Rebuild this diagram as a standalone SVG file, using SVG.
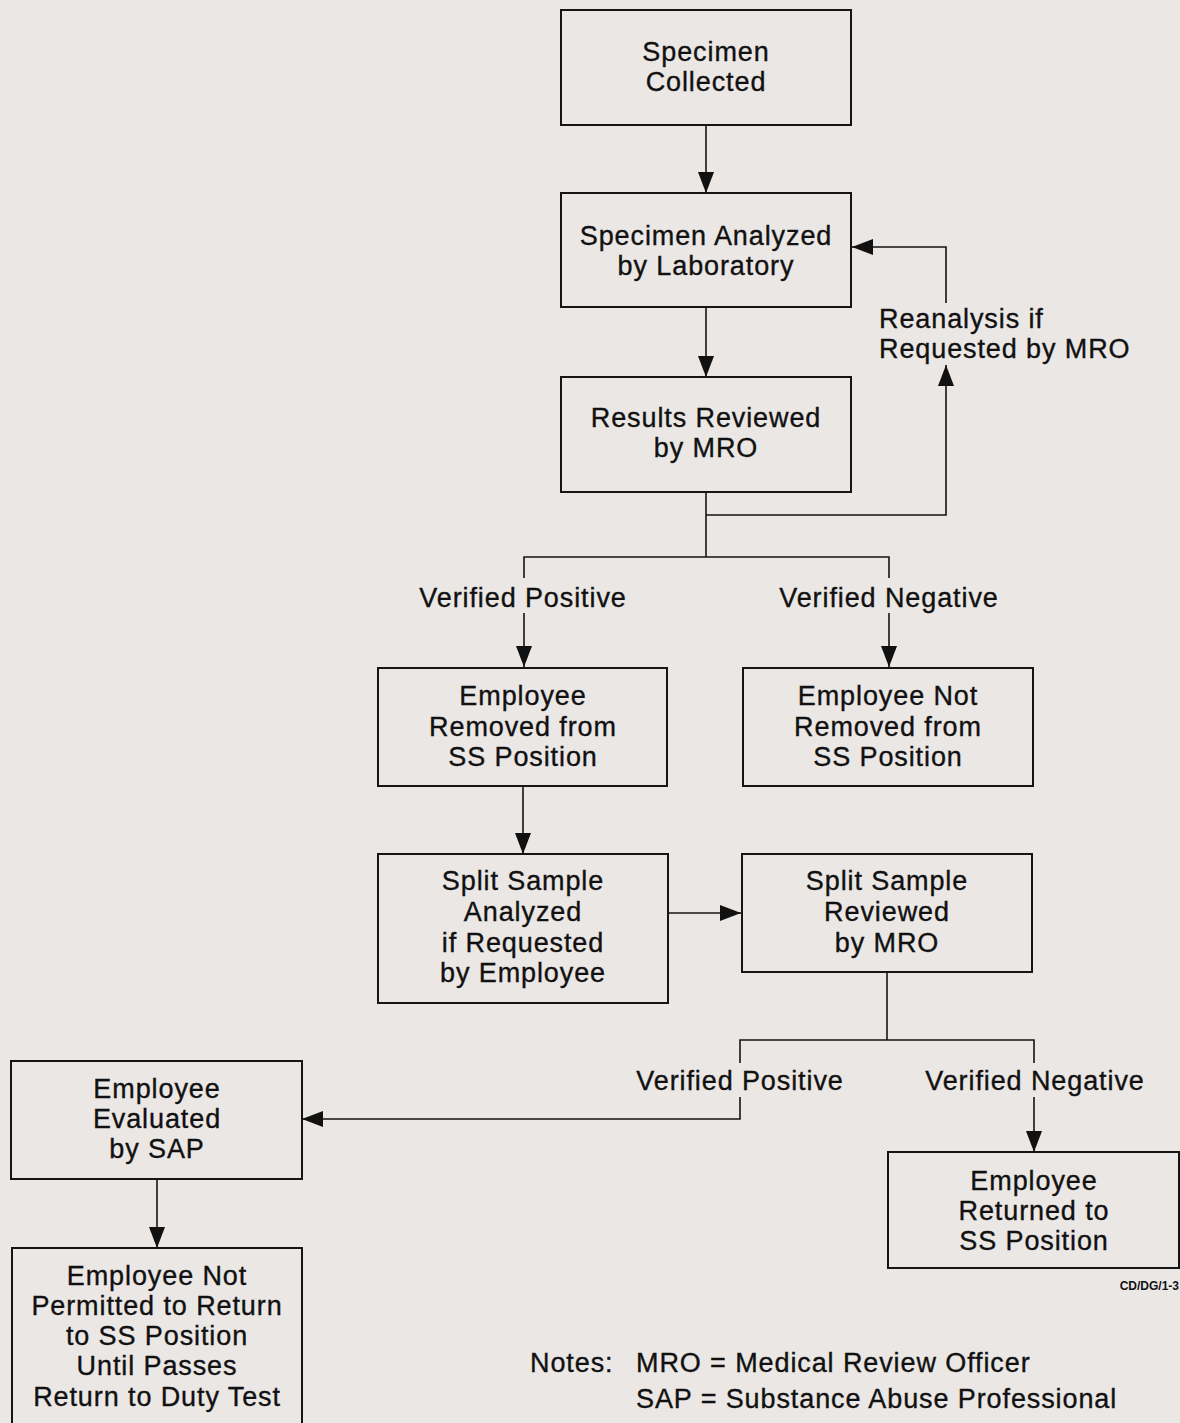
<svg xmlns="http://www.w3.org/2000/svg" width="1180" height="1423" viewBox="0 0 1180 1423">
<style>
.bg{fill:#ebe7e5}
.box{fill:none;stroke:#151515;stroke-width:2}
.ln{fill:none;stroke:#151515;stroke-width:1.6}
text{font-family:"Liberation Sans",Arial,sans-serif;font-size:27px;fill:#111;stroke:#111;stroke-width:0.35px;letter-spacing:0.9px}
.c{text-anchor:middle}
.small{font-size:12px;font-weight:bold;letter-spacing:0;stroke-width:0}
</style>
<defs>
<marker id="ah" markerUnits="userSpaceOnUse" markerWidth="24" markerHeight="18" refX="21" refY="8" orient="auto">
<path d="M0,0 L21,8 L0,16 z" fill="#111"/>
</marker>
</defs>
<rect class="bg" x="0" y="0" width="1180" height="1423"/>

<g id="connectors">
<path class="ln" d="M706,125 V193" marker-end="url(#ah)"/>
<path class="ln" d="M706,307 V377" marker-end="url(#ah)"/>
<path class="ln" d="M706,492 V557"/>
<path class="ln" d="M706,515 H946 V365" marker-end="url(#ah)"/>
<path class="ln" d="M946,303 V247 H852" marker-end="url(#ah)"/>
<path class="ln" d="M524,578 V557 H889 V578"/>
<path class="ln" d="M524,613 V667" marker-end="url(#ah)"/>
<path class="ln" d="M889,613 V667" marker-end="url(#ah)"/>
<path class="ln" d="M523,786 V854" marker-end="url(#ah)"/>
<path class="ln" d="M668,913 H741" marker-end="url(#ah)"/>
<path class="ln" d="M887,972 V1040"/>
<path class="ln" d="M740,1063 V1040 H1034 V1063"/>
<path class="ln" d="M740,1097 V1119 H302" marker-end="url(#ah)"/>
<path class="ln" d="M1034,1097 V1152" marker-end="url(#ah)"/>
<path class="ln" d="M157,1179 V1248" marker-end="url(#ah)"/>
</g>

<g id="n1"><rect class="box" x="561" y="10" width="290" height="115"/>
<text class="c" x="706" y="61">Specimen</text><text class="c" x="706" y="91">Collected</text></g>

<g id="n2"><rect class="box" x="561" y="193" width="290" height="114"/>
<text class="c" x="706" y="245">Specimen Analyzed</text><text class="c" x="706" y="275">by Laboratory</text></g>

<g id="n3"><rect class="box" x="561" y="377" width="290" height="115"/>
<text class="c" x="706" y="427">Results Reviewed</text><text class="c" x="706" y="457">by MRO</text></g>

<g id="lbl-reanalysis"><text x="879" y="328">Reanalysis if</text><text x="879" y="358">Requested by MRO</text></g>
<g id="lbl-vp1"><text class="c" x="523" y="607">Verified Positive</text></g>
<g id="lbl-vn1"><text class="c" x="889" y="607">Verified Negative</text></g>

<g id="n4"><rect class="box" x="378" y="668" width="289" height="118"/>
<text class="c" x="523" y="705">Employee</text><text class="c" x="523" y="736">Removed from</text><text class="c" x="523" y="766">SS Position</text></g>

<g id="n5"><rect class="box" x="743" y="668" width="290" height="118"/>
<text class="c" x="888" y="705">Employee Not</text><text class="c" x="888" y="736">Removed from</text><text class="c" x="888" y="766">SS Position</text></g>

<g id="n6"><rect class="box" x="378" y="854" width="290" height="149"/>
<text class="c" x="523" y="890">Split Sample</text><text class="c" x="523" y="921">Analyzed</text><text class="c" x="523" y="952">if Requested</text><text class="c" x="523" y="982">by Employee</text></g>

<g id="n7"><rect class="box" x="742" y="854" width="290" height="118"/>
<text class="c" x="887" y="890">Split Sample</text><text class="c" x="887" y="921">Reviewed</text><text class="c" x="887" y="952">by MRO</text></g>

<g id="lbl-vp2"><text class="c" x="740" y="1090">Verified Positive</text></g>
<g id="lbl-vn2"><text class="c" x="1035" y="1090">Verified Negative</text></g>

<g id="n8"><rect class="box" x="11" y="1061" width="291" height="118"/>
<text class="c" x="157" y="1098">Employee</text><text class="c" x="157" y="1128">Evaluated</text><text class="c" x="157" y="1158">by SAP</text></g>

<g id="n9"><rect class="box" x="888" y="1152" width="291" height="116"/>
<text class="c" x="1034" y="1190">Employee</text><text class="c" x="1034" y="1220">Returned to</text><text class="c" x="1034" y="1250">SS Position</text></g>

<g id="n10"><rect class="box" x="12" y="1248" width="290" height="200"/>
<text class="c" x="157" y="1285">Employee Not</text><text class="c" x="157" y="1315">Permitted to Return</text><text class="c" x="157" y="1345">to SS Position</text><text class="c" x="157" y="1375">Until Passes</text><text class="c" x="157" y="1406">Return to Duty Test</text></g>

<g id="notes">
<text x="530" y="1372">Notes:</text>
<text x="636" y="1372">MRO = Medical Review Officer</text>
<text x="636" y="1408">SAP = Substance Abuse Professional</text>
</g>
<text class="small" x="1179" y="1290" text-anchor="end">CD/DG/1-3</text>
</svg>
